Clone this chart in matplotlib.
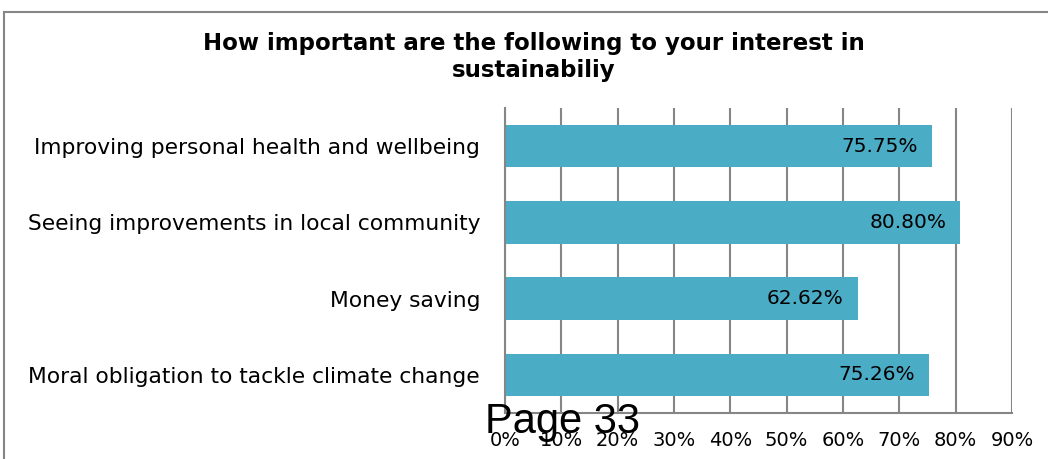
import matplotlib
matplotlib.use("Agg")
import matplotlib.pyplot as plt
from matplotlib.lines import Line2D

# data
categories = ["Improving personal health and wellbeing",
              "Seeing improvements in local community",
              "Money saving",
              "Moral obligation to tackle climate change"]
values = [75.75, 80.80, 62.62, 75.26]
ticks = list(range(0, 91, 10))
title = "How important are the following to your interest in\nsustainabiliy"

bar_color = "#4BACC6"
grid_color = "#868686"

fig = plt.figure(figsize=(10.48, 4.59), dpi=100)
ax = fig.add_axes([505/1048, 46/459, 507/1048, 305/459])

y = list(range(len(categories)))
ax.barh(y, values, height=0.56, color=bar_color, zorder=2)
ax.set_ylim(len(categories) - 0.5, -0.5)
ax.set_xlim(0, 90)

ax.set_xticks(ticks)
ax.set_xticklabels([f"{t}%" for t in ticks], fontsize=14, family="DejaVu Sans")
ax.tick_params(axis="x", length=0, pad=13)
ax.grid(axis="x", color=grid_color, linewidth=1.5, zorder=0)

ax.set_yticks(y)
ax.set_yticklabels(categories, fontsize=15.7, family="DejaVu Sans")
ax.tick_params(axis="y", length=0, pad=18)

for s in ["top", "right"]:
    ax.spines[s].set_visible(False)
for s in ["left", "bottom"]:
    ax.spines[s].set_color(grid_color)
    ax.spines[s].set_linewidth(1.5)

for yi, v in zip(y, values):
    ax.annotate(f"{v:.2f}%", (v, yi), xytext=(-10, 0), textcoords="offset points",
                ha="right", va="center", fontsize=14.5, family="DejaVu Sans",
                zorder=3)

fig.text(534/1048, 1 - 57/459, title, ha="center", va="center",
         fontsize=16.5, fontweight="bold", family="DejaVu Sans",
         linespacing=1.2)

# outer chart frame
x0 = 4/1048
y0 = 1 - 12/459
fig.add_artist(Line2D([x0, x0], [0, y0], color=grid_color, lw=1.5))
fig.add_artist(Line2D([x0, 1], [y0, y0], color=grid_color, lw=1.5))

fig.text(485/1048, 1 - 422/459, "Page 33", ha="left", va="center",
         fontsize=30, family="Liberation Sans")

fig.savefig("out.png", dpi=100)
